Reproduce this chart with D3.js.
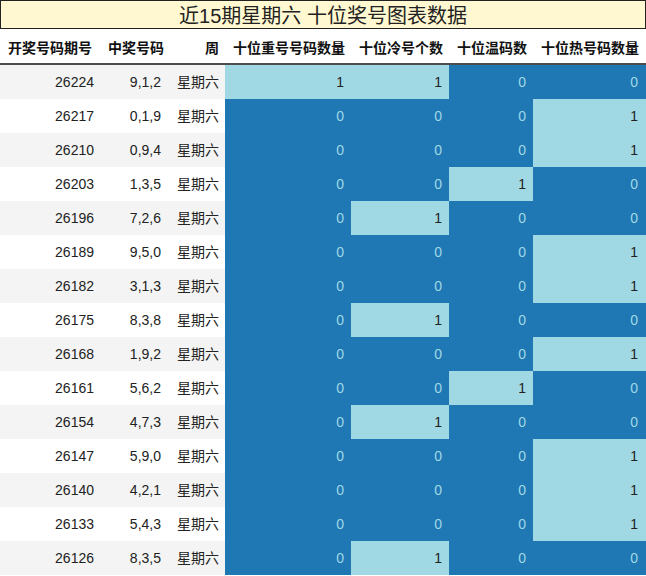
<!DOCTYPE html>
<html><head><meta charset="UTF-8">
<script src="https://d3js.org/d3.v7.min.js"></script>
<style>body{margin:0;background:#fff;font-family:"Liberation Sans","Noto Sans CJK SC",sans-serif}</style>
</head><body><div id="chart"></div>
<script>
const title = "近15期星期六 十位奖号图表数据";
const columns = ["开奖号码期号", "中奖号码", "周", "十位重号号码数量", "十位冷号个数", "十位温码数", "十位热号码数量"];
const issues = ["26224","26217","26210","26203","26196","26189","26182","26175","26168","26161","26154","26147","26140","26133","26126"];
const numbers = ["9,1,2","0,1,9","0,9,4","1,3,5","7,2,6","9,5,0","3,1,3","8,3,8","1,9,2","5,6,2","4,7,3","5,9,0","4,2,1","5,4,3","8,3,5"];
const weekdays = Array(15).fill("星期六");
const repeatCount = [1,0,0,0,0,0,0,0,0,0,0,0,0,0,0];
const coldCount   = [1,0,0,0,1,0,0,1,0,0,1,0,0,0,1];
const warmCount   = [0,0,0,1,0,0,0,0,0,1,0,0,0,0,0];
const hotCount    = [0,1,1,0,0,1,1,0,1,0,0,1,1,1,0];

const W = 646, H = 576;
const edges = [0, 100, 167, 225, 351, 449, 533, 645];
const titleH = 29, headH = 35, rowH = 34;
const svg = d3.select("#chart").append("svg").attr("width", W).attr("height", H);

svg.append("rect").attr("x", 0.5).attr("y", 0.5).attr("width", W - 1).attr("height", titleH - 1)
  .attr("fill", "#fff8d0").attr("stroke", "#222");
svg.append("text").attr("x", W / 2).attr("y", 23).attr("text-anchor", "middle")
  .attr("font-size", 20).attr("fill", "#222").text(title);

const y = d3.scaleBand().domain(d3.range(issues.length)).range([titleH + headH + 1, titleH + headH + 1 + rowH * issues.length]);
const color = d3.scaleOrdinal().domain([0, 1]).range(["#1f77b4", "#a0d8e4"]);
const textColor = d3.scaleOrdinal().domain([0, 1]).range(["#a0d8e4", "#222"]);

columns.forEach((c, i) => {
  svg.append("text").attr("x", i === 0 ? 8 : (i === 1 ? 108 : edges[i + 1] - 6)).attr("y", titleH + 24)
    .attr("text-anchor", i < 2 ? "start" : "end").attr("font-size", 14).attr("font-weight", "bold")
    .attr("fill", "#111").text(c);
});
svg.append("line").attr("x1", 0).attr("x2", W).attr("y1", titleH + headH).attr("y2", titleH + headH)
  .attr("stroke", "#111").attr("stroke-width", 1.5);

const textCols = [issues, numbers, weekdays];
const valCols = [repeatCount, coldCount, warmCount, hotCount];
issues.forEach((_, r) => {
  svg.append("rect").attr("x", 0).attr("y", y(r)).attr("width", edges[3]).attr("height", rowH)
    .attr("fill", r % 2 === 0 ? "#f4f4f4" : "#fff");
  textCols.forEach((col, i) => {
    svg.append("text").attr("x", edges[i + 1] - 6).attr("y", y(r) + 22).attr("text-anchor", "end")
      .attr("font-size", 14).attr("fill", "#222").text(col[r]);
  });
  valCols.forEach((col, j) => {
    const v = col[r], i = j + 3;
    svg.append("rect").attr("x", edges[i]).attr("y", y(r)).attr("width", edges[i + 1] - edges[i] + (i === 6 ? 1 : 0))
      .attr("height", rowH).attr("fill", color(v));
    svg.append("text").attr("x", edges[i + 1] - 7).attr("y", y(r) + 22).attr("text-anchor", "end")
      .attr("font-size", 14).attr("fill", textColor(v)).text(v);
  });
});
</script></body></html>
